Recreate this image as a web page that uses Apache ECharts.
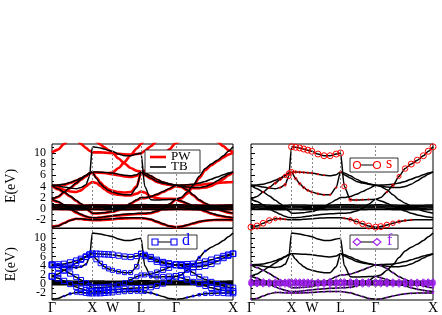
<!DOCTYPE html>
<html><head><meta charset="utf-8">
<script src="https://cdn.jsdelivr.net/npm/echarts@6/dist/echarts.min.js"></script>
<style>html,body{margin:0;padding:0;background:#fff}#c{width:442px;height:315px}</style>
</head><body><div id="c"></div>
<script>
// k-path (Γ-X-W-L-Γ-X), distances in units of 2π/a
const kPath = [0,0.15,0.3,0.45,0.6,0.72,0.84,0.93,1.0, 1.1,1.2,1.3,1.4,1.5, 1.65,1.8,1.95,2.1,2.207, 2.3,2.45,2.6,2.75,2.9,3.073, 3.2,3.35,3.5,3.65,3.8,3.95,4.1,4.25,4.37,4.487];
const kTicks = [0, 1.0, 1.5, 2.207, 3.073, 4.487];
const kLabels = ['Γ','X','W','L','Γ','X'];
const yTicks = [-2,0,2,4,6,8,10];
const yMinorTicks = [-3,-1,1,3,5,7,9,11];

// TB bands (eV)
const tbS  = [-3.3,-3.1,-2.6,-2.1,-1.8,-1.8,-1.9,-1.95,-1.95, -1.95,-1.95,-1.9,-1.85,-1.8, -1.7,-1.65,-1.6,-1.6,-1.6, -1.7,-1.9,-2.3,-2.7,-3.1,-3.3, -3.2,-2.9,-2.6,-2.3,-2.1,-2.0,-1.95,-1.95,-1.95,-1.95];
const tbD1 = [1.7,1.3,0.7,0.0,-0.6,-1.0,-1.35,-1.55,-1.6, -1.6,-1.55,-1.45,-1.35,-1.25, -1.1,-1.0,-0.9,-0.85,-0.8, -0.8,-0.7,-0.4,0.1,0.8,1.7, 1.4,1.0,0.5,0.0,-0.4,-0.8,-1.1,-1.35,-1.5,-1.6];
const tbD2 = [1.7,2.2,3.0,3.8,4.6,5.3,5.9,6.4,6.6, 6.6,6.55,6.5,6.45,6.4, 6.2,6.0,5.9,6.1,6.6, 6.4,5.9,5.3,4.8,4.5,4.2, 4.25,4.3,4.4,4.6,4.9,5.3,5.7,6.1,6.4,6.6];
const tbD3 = [4.2,3.6,3.0,2.3,1.5,0.9,0.2,-0.4,-0.8, -0.8,-0.75,-0.7,-0.6,-0.5, -0.2,0.3,1.0,1.6,2.0, 2.0,2.2,2.6,3.1,3.6,4.2, 4.0,3.4,2.5,1.6,1.0,0.5,0.0,-0.4,-0.65,-0.8];
const tbD4 = [4.2,4.1,3.9,3.7,3.6,3.8,4.3,5.8,11.1, 11.0,10.9,10.7,10.5,10.3, 9.8,9.5,9.5,9.8,10.0, 4.0,1.6,1.55,1.6,1.65,1.7, 2.0,3.0,4.2,5.8,7.2,8.0,8.7,9.5,10.3,11.1];
const tbD5 = [4.2,4.25,4.4,4.7,5.1,5.5,6.0,6.4,6.6, 5.4,4.5,3.8,3.3,3.0, 2.7,2.5,2.5,3.8,6.6, 6.1,5.5,4.9,4.6,4.4,4.2, 4.1,3.9,3.8,3.8,4.0,4.4,5.0,5.7,6.2,6.6];
const tbF1 = [0.72,0.72,0.7,0.66,0.62,0.6,0.62,0.66,0.68, 0.68,0.67,0.66,0.64,0.63, 0.62,0.63,0.66,0.7,0.72, 0.72,0.71,0.69,0.67,0.68,0.7, 0.7,0.68,0.66,0.64,0.63,0.62,0.62,0.64,0.66,0.68];
const tbF2 = [0.5,0.5,0.48,0.45,0.43,0.42,0.44,0.46,0.47, 0.47,0.46,0.45,0.44,0.44, 0.44,0.45,0.47,0.49,0.5, 0.5,0.49,0.48,0.47,0.48,0.5, 0.49,0.48,0.46,0.45,0.44,0.44,0.45,0.46,0.47,0.47];
const tbF3 = [0.32,0.32,0.3,0.28,0.27,0.28,0.3,0.31,0.31, 0.31,0.3,0.29,0.28,0.28, 0.28,0.29,0.3,0.32,0.33, 0.33,0.32,0.31,0.3,0.31,0.32, 0.32,0.31,0.3,0.29,0.28,0.28,0.29,0.3,0.31,0.31];
const tbF4 = [0.12,0.12,0.1,0.08,0.06,0.07,0.1,0.12,0.13, 0.13,0.12,0.11,0.1,0.1, 0.1,0.11,0.12,0.14,0.15, 0.15,0.14,0.12,0.11,0.12,0.12, 0.12,0.11,0.1,0.09,0.08,0.08,0.09,0.1,0.12,0.13];
const tbF5 = [-0.12,-0.12,-0.14,-0.17,-0.2,-0.2,-0.18,-0.16,-0.15, -0.15,-0.16,-0.17,-0.18,-0.18, -0.18,-0.17,-0.15,-0.13,-0.12, -0.12,-0.13,-0.15,-0.17,-0.15,-0.12, -0.12,-0.14,-0.16,-0.18,-0.19,-0.2,-0.19,-0.18,-0.16,-0.15];

// PW bands (eV)
const pwS  = [-3.25,-3.05,-2.55,-2.05,-1.8,-1.85,-1.95,-2.0,-2.05, -2.05,-2.05,-2.0,-1.95,-1.9, -1.8,-1.75,-1.7,-1.7,-1.7, -1.75,-1.95,-2.35,-2.75,-3.1,-3.3, -3.2,-2.95,-2.65,-2.35,-2.15,-2.05,-2.0,-2.0,-2.0,-2.05];
const pwD1 = [1.6,1.2,0.6,-0.1,-0.7,-1.1,-1.4,-1.6,-1.65, -1.65,-1.6,-1.5,-1.4,-1.3, -1.2,-1.1,-1.0,-0.95,-0.9, -0.9,-0.8,-0.5,0.0,0.7,1.6, 1.3,0.9,0.4,-0.1,-0.5,-0.9,-1.2,-1.4,-1.55,-1.65];
const pwD2 = [1.6,2.1,2.9,3.7,4.5,5.2,5.8,6.3,6.5, 6.5,6.45,6.4,6.3,6.2, 6.0,5.8,5.7,5.9,6.5, 6.3,5.8,5.2,4.7,4.4,4.1, 4.15,4.2,4.25,4.3,4.4,4.5,4.6,4.7,4.75,4.8];
const pwD3 = [4.1,3.5,2.9,2.2,1.4,0.8,0.1,-0.45,-0.85, -0.85,-0.8,-0.75,-0.65,-0.55, -0.25,0.2,0.9,1.5,1.9, 1.9,2.1,2.5,3.0,3.5,4.1, 3.9,3.3,2.4,1.5,0.9,0.4,-0.1,-0.45,-0.7,-0.85];
const pwD5 = [4.1,3.8,3.4,3.1,3.0,3.3,4.0,4.5,4.8, 4.6,4.1,3.5,3.0,2.7, 2.5,2.4,2.4,2.7,3.1, 2.9,2.2,1.9,1.8,1.8,1.75, 1.8,2.7,4.0,5.5,6.9,7.8,8.5,9.2,9.7,10.0];
const pwD6 = [4.1,4.15,4.3,4.6,5.0,5.4,5.9,6.3,6.5, 5.6,4.7,4.0,3.5,3.2, 3.0,2.9,3.0,4.0,6.5, 6.0,5.4,4.8,4.5,4.3,4.1, 4.0,3.8,3.7,3.7,3.8,4.1,4.6,5.3,6.0,6.5];
const pwTop = [16,15.5,14.6,13.6,12.5,11.6,10.9,10.4,10.1, 10.1,10.1,10.05,10.0,9.95, 9.85,9.75,9.7,9.8,9.9, 10.4,11.2,12.1,13.0,14,15, 15,15,15,15,14,13.0,12.0,11.2,10.5,10.1];
const pwH1 = [10.1,10.6,11.6,12.8,14.0,null,null,null,null, null,null,null,null,null, null,null,null,null,null, null,null,null,null,null,null, null,null,null,null,null,null,null,null,null,null];
const pwH2 = [null,null,null,null,null,null,14.0,13.2,12.6, 12.0,11.5,11.0,10.5,10.0, 9.0,8.1,7.3,6.8,6.6, 6.8,7.4,8.3,9.4,10.6,11.8, 12.2,13.0,14.0,null,null,null,null,null,null,null];
const pwH3 = [null,null,null,null,null,null,null,null,null, null,null,null,6.4,6.5, 7.3,8.4,9.6,10.8,11.6, 12.3,13.2,null,null,null,null, null,null,null,null,null,null,null,null,null,null];
const pwF1 = [0.62,0.62,0.6,0.57,0.54,0.53,0.55,0.58,0.6, 0.6,0.59,0.58,0.56,0.55, 0.55,0.56,0.58,0.62,0.64, 0.64,0.63,0.61,0.59,0.6,0.62, 0.62,0.6,0.58,0.56,0.55,0.54,0.54,0.56,0.58,0.6];
const pwF2 = [0.28,0.28,0.26,0.24,0.23,0.24,0.26,0.27,0.27, 0.27,0.26,0.25,0.24,0.24, 0.24,0.25,0.26,0.28,0.29, 0.29,0.28,0.27,0.26,0.27,0.28, 0.28,0.27,0.26,0.25,0.24,0.24,0.25,0.26,0.27,0.27];
const pwF3 = [-0.05,-0.05,-0.07,-0.1,-0.12,-0.12,-0.1,-0.08,-0.07, -0.07,-0.08,-0.09,-0.1,-0.1, -0.1,-0.09,-0.07,-0.05,-0.04, -0.04,-0.05,-0.07,-0.09,-0.07,-0.05, -0.05,-0.07,-0.09,-0.11,-0.12,-0.12,-0.11,-0.1,-0.08,-0.07];

// s character (TB)
const sWtS  = [1.0,1.0,0.95,0.9,0.6,0.3,0.1,0,0, 0,0,0,0,0, 0,0,0,0,0, 0.1,0.5,0.8,0.9,1.0,1.0, 1.0,0.9,0.7,0.4,0.2,0.1,0,0,0,0];
const sWtD2 = [0,0,0.05,0.15,0.25,0.35,0.5,0.7,0.8, 0.3,0.2,0.15,0.1,0.1, 0.1,0.05,0,0,0, 0,0,0,0,0,0, 0,0,0,0,0,0,0,0,0,0];
const sWtD4 = [0,0,0,0,0,0.1,0.3,0.7,1.0, 1.0,1.0,1.0,1.0,1.0, 1.0,1.0,1.0,1.0,1.0, 0.8,0.4,0.15,0.1,0.05,0, 0,0.1,0.3,0.6,0.9,1.0,1.0,1.0,1.0,1.0];
const sWtD5 = [0,0,0,0,0,0,0,0,0.2, 0.3,0.3,0.25,0.2,0.2, 0.15,0.1,0.1,0.1,0.1, 0,0,0,0,0,0, 0,0,0,0,0,0,0,0,0,0];
// d character (TB)
const dWtS  = [0,0,0.05,0.2,0.5,0.7,0.8,0.9,0.9, 0.9,0.9,0.85,0.8,0.8, 0.7,0.6,0.6,0.5,0.5, 0.4,0.2,0.05,0,0,0, 0,0.05,0.15,0.3,0.5,0.6,0.7,0.8,0.9,0.9];
const dWtD1 = [0.95,0.9,0.85,0.8,0.8,0.85,0.9,0.9,0.9, 0.9,0.9,0.9,0.9,0.9, 0.85,0.8,0.8,0.8,0.8, 0.8,0.8,0.75,0.8,0.85,0.95, 0.9,0.85,0.8,0.8,0.8,0.85,0.9,0.9,0.95,0.95];
const dWtD2 = [0.95,0.9,0.9,0.85,0.85,0.85,0.85,0.9,0.9, 0.9,0.9,0.9,0.9,0.9, 0.85,0.85,0.85,0.8,0.8, 0.8,0.85,0.85,0.9,0.9,0.95, 0.95,0.95,0.9,0.9,0.9,0.9,0.9,0.9,0.9,0.9];
const dWtD3 = [0.95,0.9,0.9,0.85,0.8,0.8,0.8,0.85,0.9, 0.9,0.9,0.85,0.85,0.8, 0.7,0.6,0.6,0.6,0.6, 0.6,0.65,0.7,0.8,0.9,0.95, 0.95,0.9,0.85,0.8,0.8,0.8,0.85,0.9,0.9,0.9];
const dWtD4 = [0.6,0.5,0.4,0.3,0.2,0.15,0.1,0.05,0, 0,0,0,0,0, 0,0,0,0,0, 0,0.3,0.6,0.75,0.85,0.9, 0.8,0.6,0.4,0.25,0.1,0,0,0,0,0];
const dWtD5 = [0.95,0.95,0.9,0.9,0.9,0.9,0.9,0.9,0.9, 0.8,0.7,0.65,0.6,0.6, 0.6,0.6,0.6,0.7,0.8, 0.85,0.9,0.9,0.9,0.9,0.95, 0.95,0.95,0.95,0.9,0.9,0.9,0.9,0.9,0.9,0.9];
// f character (TB)
const fWtF  = [0.95,0.95,0.95,0.9,0.9,0.9,0.95,0.95,0.95, 0.95,0.95,0.95,0.95,0.95, 0.95,0.95,0.95,0.9,0.9, 0.9,0.95,0.95,0.95,0.95,0.95, 0.95,0.95,0.95,0.95,0.9,0.9,0.95,0.95,0.95,0.95];
const fWtS  = [0.1,0.1,0.12,0.15,0.2,0.2,0.2,0.2,0.2, 0.2,0.2,0.2,0.2,0.2, 0.2,0.2,0.2,0.2,0.2, 0.2,0.2,0.15,0.12,0.1,0.1, 0.1,0.12,0.15,0.2,0.2,0.2,0.2,0.2,0.2,0.2];
const fWtD1 = [0.2,0.25,0.3,0.35,0.3,0.25,0.25,0.25,0.25, 0.25,0.25,0.25,0.25,0.25, 0.25,0.3,0.3,0.3,0.3, 0.3,0.3,0.35,0.35,0.3,0.2, 0.25,0.3,0.35,0.35,0.3,0.25,0.25,0.25,0.25,0.25];
const fWtD3 = [0.1,0.15,0.2,0.2,0.25,0.3,0.35,0.3,0.25, 0.25,0.25,0.25,0.25,0.25, 0.3,0.35,0.3,0.25,0.2, 0.2,0.2,0.2,0.15,0.1,0.1, 0.1,0.15,0.2,0.25,0.3,0.35,0.3,0.25,0.25,0.25];

const FONT = 'Liberation Serif';
const grids = [
  {left:52, top:144, width:181, height:84},
  {left:251, top:144, width:182, height:84},
  {left:52, top:228.5, width:181, height:73.5},
  {left:251, top:228.5, width:182, height:73.5}
];
const yRange = [[-3.45,11.6],[-3.45,11.6],[-3.45,12.1],[-3.45,12.1]];

const toLine = arr => kPath.map((k,i)=> arr[i]==null ? [k,'-'] : [k, arr[i]]);
function band(arr, gi, color, width, extra){
  const s = {type:'line', xAxisIndex:gi, yAxisIndex:gi, data:toLine(arr), showSymbol:false, symbol:'none',
    smooth:0.25, smoothMonotone:'x', lineStyle:{color:color, width:width}, silent:true, z:2};
  return Object.assign(s, extra||{});
}
function proj(arr, wts, gi, symbol, color, base, scale){
  const data=[]; kPath.forEach((k,i)=>{ if(wts[i]>0.04) data.push([k, arr[i], wts[i]]); });
  return {type:'scatter', xAxisIndex:gi, yAxisIndex:gi, data:data, symbol:symbol,
    symbolSize: v => base + scale*v[2],
    itemStyle:{color:'rgba(255,255,255,0)', borderColor:color, borderWidth:1, opacity:1},
    clip:false, silent:true, z:3};
}
const dash = {markLine:{symbol:'none', silent:true, label:{show:false}, animation:false,
  lineStyle:{color:'#888', type:[2,2], width:1}, data:kTicks.slice(1,-1).map(k=>({xAxis:k}))}};

const tbList = [tbS, tbD1, tbD2, tbD3, tbD4, tbD5, tbF1, tbF2, tbF3, tbF4, tbF5];
const pwList = [pwS, pwD1, pwD2, pwD3, pwD5, pwD6, pwTop, pwH1, pwH2, pwH3, pwF1, pwF2, pwF3];

const series = [];
pwList.forEach((a,i)=> series.push(band(a,0,'#ff0000',2.6, i===0?dash:null)));
tbList.forEach(a=> series.push(band(a,0,'#000',1.5)));
[1,2,3].forEach(gi => tbList.forEach((a,i)=> series.push(band(a,gi,'#000',1.5, i===0?dash:null))));
const RED='#ff0000', BLUE='#0000ff', PUR='#a020f0';
[[tbS,sWtS],[tbD2,sWtD2],[tbD4,sWtD4],[tbD5,sWtD5]].forEach(p=>series.push(proj(p[0],p[1],1,'circle',RED,1,5)));
[[tbS,dWtS],[tbD1,dWtD1],[tbD2,dWtD2],[tbD3,dWtD3],[tbD4,dWtD4],[tbD5,dWtD5]].forEach(p=>series.push(proj(p[0],p[1],2,'rect',BLUE,1,5)));
[[tbS,fWtS],[tbD1,fWtD1],[tbD3,fWtD3]].forEach(p=>series.push(proj(p[0],p[1],3,'diamond',PUR,1,4)));
[tbF1,tbF2,tbF3,tbF4,tbF5].forEach(a=>series.push(proj(a,fWtF,3,'diamond',PUR,1,4)));

const xAxes = grids.map((g,i)=>({gridIndex:i, type:'value', min:0, max:4.487,
  axisLine:{show:false}, splitLine:{show:false}, axisTick:{show:false},
  axisLabel:{show:i>=2, customValues:kTicks, showMinLabel:true, showMaxLabel:true, interval:0,
    formatter:v=>kLabels[kTicks.indexOf(v)], fontFamily:FONT, fontSize:14, color:'#000', margin:1}}));
// Labels split into two non-overlapping sets so ECharts keeps all of them
const labelSetA = yTicks.filter((v,i)=>i%2===0);
const labelSetB = yTicks.filter((v,i)=>i%2===1);
function yAx(i, ticks, tickLen, labels, withName){
  return {gridIndex:i, type:'value', min:yRange[i][0], max:yRange[i][1], position:'left', offset:0,
    axisLine:{show:false}, splitLine:{show:false},
    axisTick:{show:!!ticks, inside:true, length:tickLen, customValues:ticks||[], lineStyle:{color:'#000', width:1}},
    axisLabel:{show:!!labels && (i%2===0), customValues:labels||[], showMinLabel:true, showMaxLabel:true,
      fontFamily:FONT, fontSize:12, color:'#000', margin:6},
    name:(withName && i%2===0)?'E(eV)':'', nameLocation:'middle', nameGap:34, nameRotate:90,
    nameTextStyle:{fontFamily:FONT, fontSize:14, color:'#000'}};
}
const yAxes = grids.map((g,i)=>yAx(i, yTicks, 4, labelSetA, true))
  .concat(grids.map((g,i)=>yAx(i, yMinorTicks, 2, null, false)))
  .concat(grids.map((g,i)=>yAx(i, null, 0, labelSetB, false)));

function legendBox(x,y,w,h){ return {type:'rect', z:100, shape:{x:x,y:y,width:w,height:h}, style:{fill:'#fff', stroke:'#000', lineWidth:0.8}}; }
const graphic = [
  legendBox(145,150,55,23),
  {type:'line', z:101, shape:{x1:150,y1:157,x2:166,y2:157}, style:{stroke:RED, lineWidth:2.6}},
  {type:'text', z:101, x:171, y:157, style:{text:'PW', fontFamily:FONT, fontSize:13, fill:'#000', verticalAlign:'middle'}},
  {type:'line', z:101, shape:{x1:150,y1:167,x2:166,y2:167}, style:{stroke:'#000', lineWidth:1.6}},
  {type:'text', z:101, x:171, y:167, style:{text:'TB', fontFamily:FONT, fontSize:13, fill:'#000', verticalAlign:'middle'}},
  legendBox(350,158,48,14),
  {type:'line', z:101, shape:{x1:357,y1:165,x2:377,y2:165}, style:{stroke:'#000', lineWidth:1}},
  {type:'circle', z:102, shape:{cx:357,cy:165,r:3.5}, style:{fill:'#fff', stroke:RED, lineWidth:1.1}},
  {type:'circle', z:102, shape:{cx:377,cy:165,r:3.5}, style:{fill:'#fff', stroke:RED, lineWidth:1.1}},
  {type:'text', z:101, x:386, y:164, style:{text:'s', fontFamily:FONT, fontSize:16, fill:RED, verticalAlign:'middle'}},
  legendBox(148,235,49,14),
  {type:'line', z:101, shape:{x1:155,y1:242,x2:174,y2:242}, style:{stroke:'#000', lineWidth:1}},
  {type:'rect', z:102, shape:{x:152,y:239,width:6,height:6}, style:{fill:'#fff', stroke:BLUE, lineWidth:1.1}},
  {type:'rect', z:102, shape:{x:171,y:239,width:6,height:6}, style:{fill:'#fff', stroke:BLUE, lineWidth:1.1}},
  {type:'text', z:101, x:182, y:241, style:{text:'d', fontFamily:FONT, fontSize:16, fill:BLUE, verticalAlign:'middle'}},
  legendBox(350,235,48,14),
  {type:'line', z:101, shape:{x1:357,y1:242,x2:377,y2:242}, style:{stroke:'#000', lineWidth:1}},
  {type:'polygon', z:102, shape:{points:[[357,238.5],[361,242],[357,245.5],[353,242]]}, style:{fill:'#fff', stroke:PUR, lineWidth:1.1}},
  {type:'polygon', z:102, shape:{points:[[377,238.5],[381,242],[377,245.5],[373,242]]}, style:{fill:'#fff', stroke:PUR, lineWidth:1.1}},
  {type:'text', z:101, x:387, y:241, style:{text:'f', fontFamily:FONT, fontSize:16, fill:PUR, verticalAlign:'middle'}}
];

const chart = echarts.init(document.getElementById('c'), null, {renderer:'canvas'});
chart.setOption({
  animation:false,
  backgroundColor:'#fff',
  grid: grids.map(g=>Object.assign({show:true, borderColor:'#000', borderWidth:1, backgroundColor:'transparent'}, g)),
  xAxis: xAxes,
  yAxis: yAxes,
  series: series,
  graphic: graphic
});
</script></body></html>
